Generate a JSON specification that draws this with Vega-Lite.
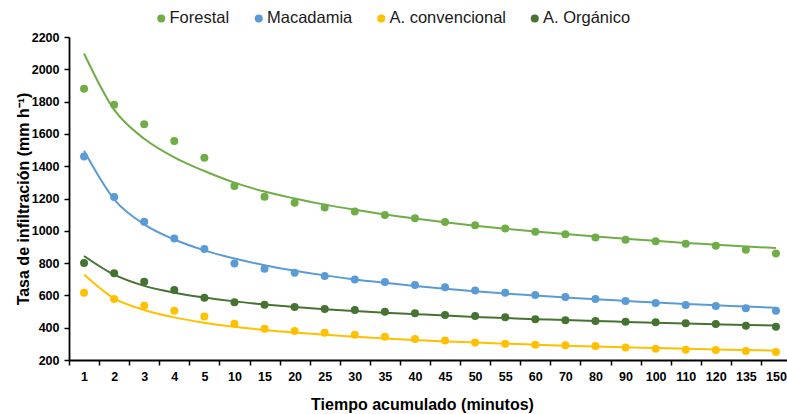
{
  "$schema": "https://vega.github.io/schema/vega-lite/v6.json",
  "width": 718,
  "height": 323,
  "autosize": {"type": "none"},
  "padding": {"left": 69, "top": 37, "right": 0, "bottom": 54},
  "background": "white",
  "config": {"view": {"stroke": null}, "font": "Liberation Sans"},
  "datasets": {
    "pts": [
      {"t":"1","s":"Forestal","v":1880},{"t":"2","s":"Forestal","v":1780},{"t":"3","s":"Forestal","v":1660},{"t":"4","s":"Forestal","v":1556},{"t":"5","s":"Forestal","v":1452},{"t":"10","s":"Forestal","v":1277},{"t":"15","s":"Forestal","v":1211},{"t":"20","s":"Forestal","v":1174},{"t":"25","s":"Forestal","v":1145},{"t":"30","s":"Forestal","v":1120},{"t":"35","s":"Forestal","v":1098},{"t":"40","s":"Forestal","v":1077},{"t":"45","s":"Forestal","v":1054},{"t":"50","s":"Forestal","v":1034},{"t":"55","s":"Forestal","v":1015},{"t":"60","s":"Forestal","v":994},{"t":"70","s":"Forestal","v":978},{"t":"80","s":"Forestal","v":959},{"t":"90","s":"Forestal","v":945},{"t":"100","s":"Forestal","v":935},{"t":"110","s":"Forestal","v":920},{"t":"120","s":"Forestal","v":908},{"t":"135","s":"Forestal","v":883},{"t":"150","s":"Forestal","v":860},
      {"t":"1","s":"Macadamia","v":1460},{"t":"2","s":"Macadamia","v":1210},{"t":"3","s":"Macadamia","v":1056},{"t":"4","s":"Macadamia","v":953},{"t":"5","s":"Macadamia","v":887},{"t":"10","s":"Macadamia","v":798},{"t":"15","s":"Macadamia","v":765},{"t":"20","s":"Macadamia","v":741},{"t":"25","s":"Macadamia","v":720},{"t":"30","s":"Macadamia","v":699},{"t":"35","s":"Macadamia","v":683},{"t":"40","s":"Macadamia","v":664},{"t":"45","s":"Macadamia","v":650},{"t":"50","s":"Macadamia","v":631},{"t":"55","s":"Macadamia","v":617},{"t":"60","s":"Macadamia","v":602},{"t":"70","s":"Macadamia","v":590},{"t":"80","s":"Macadamia","v":578},{"t":"90","s":"Macadamia","v":565},{"t":"100","s":"Macadamia","v":553},{"t":"110","s":"Macadamia","v":540},{"t":"120","s":"Macadamia","v":534},{"t":"135","s":"Macadamia","v":520},{"t":"150","s":"Macadamia","v":505},
      {"t":"1","s":"A. convencional","v":617},{"t":"2","s":"A. convencional","v":578},{"t":"3","s":"A. convencional","v":536},{"t":"4","s":"A. convencional","v":505},{"t":"5","s":"A. convencional","v":470},{"t":"10","s":"A. convencional","v":425},{"t":"15","s":"A. convencional","v":394},{"t":"20","s":"A. convencional","v":380},{"t":"25","s":"A. convencional","v":369},{"t":"30","s":"A. convencional","v":357},{"t":"35","s":"A. convencional","v":344},{"t":"40","s":"A. convencional","v":330},{"t":"45","s":"A. convencional","v":320},{"t":"50","s":"A. convencional","v":309},{"t":"55","s":"A. convencional","v":301},{"t":"60","s":"A. convencional","v":295},{"t":"70","s":"A. convencional","v":291},{"t":"80","s":"A. convencional","v":287},{"t":"90","s":"A. convencional","v":278},{"t":"100","s":"A. convencional","v":270},{"t":"110","s":"A. convencional","v":264},{"t":"120","s":"A. convencional","v":262},{"t":"135","s":"A. convencional","v":256},{"t":"150","s":"A. convencional","v":250},
      {"t":"1","s":"A. Orgánico","v":800},{"t":"2","s":"A. Orgánico","v":737},{"t":"3","s":"A. Orgánico","v":685},{"t":"4","s":"A. Orgánico","v":633},{"t":"5","s":"A. Orgánico","v":586},{"t":"10","s":"A. Orgánico","v":557},{"t":"15","s":"A. Orgánico","v":542},{"t":"20","s":"A. Orgánico","v":528},{"t":"25","s":"A. Orgánico","v":516},{"t":"30","s":"A. Orgánico","v":510},{"t":"35","s":"A. Orgánico","v":499},{"t":"40","s":"A. Orgánico","v":489},{"t":"45","s":"A. Orgánico","v":479},{"t":"50","s":"A. Orgánico","v":472},{"t":"55","s":"A. Orgánico","v":464},{"t":"60","s":"A. Orgánico","v":452},{"t":"70","s":"A. Orgánico","v":446},{"t":"80","s":"A. Orgánico","v":441},{"t":"90","s":"A. Orgánico","v":437},{"t":"100","s":"A. Orgánico","v":433},{"t":"110","s":"A. Orgánico","v":427},{"t":"120","s":"A. Orgánico","v":423},{"t":"135","s":"A. Orgánico","v":412},{"t":"150","s":"A. Orgánico","v":406}
    ],
    "trend": [
      {"t":"1","s":"Forestal","v":2098},{"t":"2","s":"Forestal","v":1750},{"t":"3","s":"Forestal","v":1570},{"t":"4","s":"Forestal","v":1455},{"t":"5","s":"Forestal","v":1370},{"t":"10","s":"Forestal","v":1298},{"t":"15","s":"Forestal","v":1243},{"t":"20","s":"Forestal","v":1200},{"t":"25","s":"Forestal","v":1162},{"t":"30","s":"Forestal","v":1130},{"t":"35","s":"Forestal","v":1101},{"t":"40","s":"Forestal","v":1076},{"t":"45","s":"Forestal","v":1053},{"t":"50","s":"Forestal","v":1032},{"t":"55","s":"Forestal","v":1013},{"t":"60","s":"Forestal","v":996},{"t":"70","s":"Forestal","v":980},{"t":"80","s":"Forestal","v":965},{"t":"90","s":"Forestal","v":951},{"t":"100","s":"Forestal","v":938},{"t":"110","s":"Forestal","v":925},{"t":"120","s":"Forestal","v":914},{"t":"135","s":"Forestal","v":903},{"t":"150","s":"Forestal","v":893},
      {"t":"1","s":"Macadamia","v":1495},{"t":"2","s":"Macadamia","v":1195},{"t":"3","s":"Macadamia","v":1040},{"t":"4","s":"Macadamia","v":946},{"t":"5","s":"Macadamia","v":879},{"t":"10","s":"Macadamia","v":828},{"t":"15","s":"Macadamia","v":787},{"t":"20","s":"Macadamia","v":753},{"t":"25","s":"Macadamia","v":724},{"t":"30","s":"Macadamia","v":699},{"t":"35","s":"Macadamia","v":678},{"t":"40","s":"Macadamia","v":658},{"t":"45","s":"Macadamia","v":641},{"t":"50","s":"Macadamia","v":626},{"t":"55","s":"Macadamia","v":612},{"t":"60","s":"Macadamia","v":599},{"t":"70","s":"Macadamia","v":587},{"t":"80","s":"Macadamia","v":576},{"t":"90","s":"Macadamia","v":566},{"t":"100","s":"Macadamia","v":556},{"t":"110","s":"Macadamia","v":547},{"t":"120","s":"Macadamia","v":539},{"t":"135","s":"Macadamia","v":531},{"t":"150","s":"Macadamia","v":524},
      {"t":"1","s":"A. convencional","v":730},{"t":"2","s":"A. convencional","v":582},{"t":"3","s":"A. convencional","v":510},{"t":"4","s":"A. convencional","v":464},{"t":"5","s":"A. convencional","v":431},{"t":"10","s":"A. convencional","v":406},{"t":"15","s":"A. convencional","v":386},{"t":"20","s":"A. convencional","v":370},{"t":"25","s":"A. convencional","v":356},{"t":"30","s":"A. convencional","v":344},{"t":"35","s":"A. convencional","v":333},{"t":"40","s":"A. convencional","v":324},{"t":"45","s":"A. convencional","v":315},{"t":"50","s":"A. convencional","v":308},{"t":"55","s":"A. convencional","v":301},{"t":"60","s":"A. convencional","v":295},{"t":"70","s":"A. convencional","v":289},{"t":"80","s":"A. convencional","v":283},{"t":"90","s":"A. convencional","v":279},{"t":"100","s":"A. convencional","v":274},{"t":"110","s":"A. convencional","v":270},{"t":"120","s":"A. convencional","v":265},{"t":"135","s":"A. convencional","v":262},{"t":"150","s":"A. convencional","v":258},
      {"t":"1","s":"A. Orgánico","v":844},{"t":"2","s":"A. Orgánico","v":728},{"t":"3","s":"A. Orgánico","v":659},{"t":"4","s":"A. Orgánico","v":617},{"t":"5","s":"A. Orgánico","v":587},{"t":"10","s":"A. Orgánico","v":563},{"t":"15","s":"A. Orgánico","v":544},{"t":"20","s":"A. Orgánico","v":528},{"t":"25","s":"A. Orgánico","v":514},{"t":"30","s":"A. Orgánico","v":503},{"t":"35","s":"A. Orgánico","v":493},{"t":"40","s":"A. Orgánico","v":484},{"t":"45","s":"A. Orgánico","v":475},{"t":"50","s":"A. Orgánico","v":467},{"t":"55","s":"A. Orgánico","v":460},{"t":"60","s":"A. Orgánico","v":453},{"t":"70","s":"A. Orgánico","v":447},{"t":"80","s":"A. Orgánico","v":441},{"t":"90","s":"A. Orgánico","v":436},{"t":"100","s":"A. Orgánico","v":431},{"t":"110","s":"A. Orgánico","v":426},{"t":"120","s":"A. Orgánico","v":421},{"t":"135","s":"A. Orgánico","v":417},{"t":"150","s":"A. Orgánico","v":413}
    ]
  },
  "encoding": {
    "x": {
      "field": "t", "type": "ordinal",
      "sort": ["1","2","3","4","5","10","15","20","25","30","35","40","45","50","55","60","70","80","90","100","110","120","135","150"],
      "scale": {"type": "band", "paddingInner": 0, "paddingOuter": 0, "range": [0, 722]},
      "axis": {
        "title": "Tiempo acumulado (minutos)",
        "tickBand": "extent", "labelAngle": 0, "grid": false,
        "labelFontWeight": "bold", "labelFontSize": 12.5, "labelColor": "black", "labelPadding": 5,
        "tickSize": 5, "tickColor": "black", "tickWidth": 1.5,
        "domainColor": "black", "domainWidth": 1.8,
        "titleFontSize": 16, "titleFontWeight": "bold", "titleColor": "black",
        "titleX": 353, "titleY": 49, "titleBaseline": "alphabetic", "titleAlign": "center"
      }
    },
    "y": {
      "field": "v", "type": "quantitative",
      "scale": {"domain": [200, 2200], "nice": false, "zero": false},
      "axis": {
        "values": [200,400,600,800,1000,1200,1400,1600,1800,2000,2200], "format": "d",
        "title": "Tasa de infiltración (mm h⁻¹)", "grid": false,
        "labelFontWeight": "bold", "labelFontSize": 12.5, "labelColor": "black", "labelPadding": 5,
        "tickSize": 5, "tickColor": "black", "tickWidth": 1.5,
        "domainColor": "black", "domainWidth": 1.8,
        "titleFontSize": 16, "titleFontWeight": "bold", "titleColor": "black",
        "titleX": -41, "titleY": 161.5, "titleAngle": -90, "titleBaseline": "alphabetic", "titleAlign": "center"
      }
    },
    "color": {
      "field": "s", "type": "nominal",
      "scale": {"domain": ["Forestal","Macadamia","A. convencional","A. Orgánico"], "range": ["#70AD47","#5B9BD5","#FFC000","#467331"]},
      "legend": {
        "orient": "none", "legendX": 84, "legendY": -27, "direction": "horizontal",
        "title": null, "labelFontSize": 16.5, "labelColor": "#1a1a1a",
        "symbolType": "circle", "symbolSize": 64, "labelOffset": 0, "columnPadding": 20.5, "padding": 0,
        "symbolStrokeWidth": 0, "symbolFillColor": "black", "symbolOpacity": 1
      }
    }
  },
  "layer": [
    {
      "data": {"name": "trend"},
      "mark": {"type": "line", "interpolate": "monotone", "strokeWidth": 2}
    },
    {
      "data": {"name": "pts"},
      "mark": {"type": "point", "filled": true, "size": 64, "opacity": 1}
    }
  ]
}
